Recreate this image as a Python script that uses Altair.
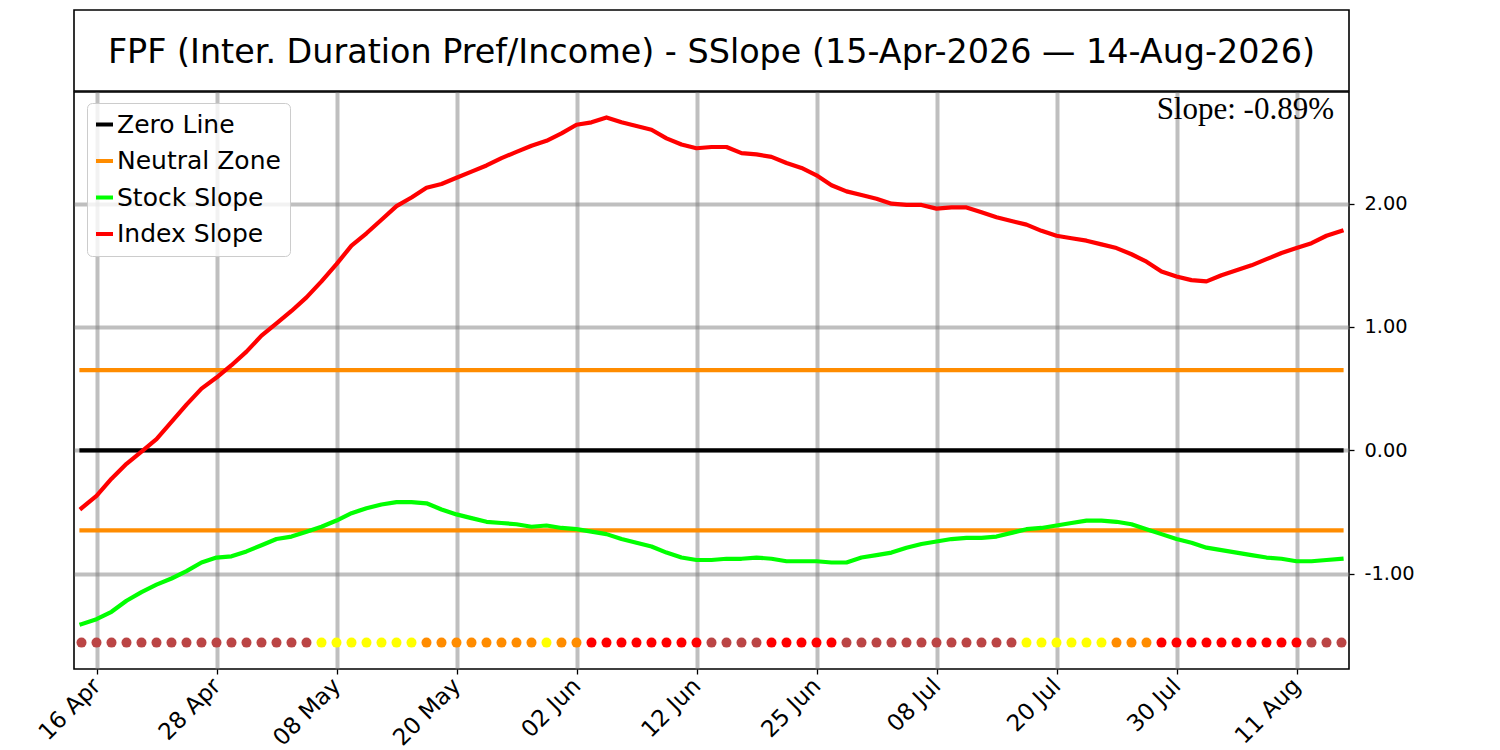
import json
import altair as alt
import pandas as pd

TITLE = "FPF (Inter. Duration Pref/Income) - SSlope (15-Apr-2026 \u2014 14-Aug-2026)"
SLOPE_NOTE = "Slope: -0.89%"

# trading-day index 0 = 15 Apr 2026 ... 84 = 14 Aug 2026
index_slope = [
    -0.47, -0.37, -0.23, -0.11, -0.01, 0.09, 0.23, 0.37, 0.50, 0.59,
    0.69, 0.80, 0.93, 1.03, 1.13, 1.24, 1.37, 1.51, 1.66, 1.76,
    1.87, 1.98, 2.05, 2.13, 2.16, 2.21, 2.26, 2.31, 2.37, 2.42,
    2.47, 2.51, 2.57, 2.64, 2.66, 2.70, 2.66, 2.63, 2.60, 2.53,
    2.48, 2.45, 2.46, 2.46, 2.41, 2.40, 2.38, 2.33, 2.29, 2.23,
    2.15, 2.10, 2.07, 2.04, 2.00, 1.99, 1.99, 1.96, 1.97, 1.97,
    1.93, 1.89, 1.86, 1.83, 1.78, 1.74, 1.72, 1.70, 1.67, 1.64,
    1.59, 1.53, 1.45, 1.41, 1.38, 1.37, 1.42, 1.46, 1.50, 1.55,
    1.60, 1.64, 1.68, 1.74, 1.78,
]

stock_slope = [
    -1.41, -1.37, -1.31, -1.22, -1.15, -1.09, -1.04, -0.98, -0.91, -0.87,
    -0.86, -0.82, -0.77, -0.72, -0.70, -0.66, -0.62, -0.57, -0.51, -0.47,
    -0.44, -0.42, -0.42, -0.43, -0.48, -0.52, -0.55, -0.58, -0.59, -0.60,
    -0.62, -0.61, -0.63, -0.64, -0.66, -0.68, -0.72, -0.75, -0.78, -0.83,
    -0.87, -0.89, -0.89, -0.88, -0.88, -0.87, -0.88, -0.90, -0.90, -0.90,
    -0.91, -0.91, -0.87, -0.85, -0.83, -0.79, -0.76, -0.74, -0.72, -0.71,
    -0.71, -0.70, -0.67, -0.64, -0.63, -0.61, -0.59, -0.57, -0.57, -0.58,
    -0.60, -0.64, -0.68, -0.72, -0.75, -0.79, -0.81, -0.83, -0.85, -0.87,
    -0.88, -0.90, -0.90, -0.89, -0.88,
]

signal_state = [
    "weak", "weak", "weak", "weak", "weak", "weak", "weak", "weak", "weak", "weak",
    "weak", "weak", "weak", "weak", "weak", "weak", "watch", "watch", "watch", "watch",
    "watch", "watch", "watch", "neutral", "neutral", "neutral", "neutral", "neutral", "neutral", "neutral",
    "neutral", "watch", "neutral", "neutral", "strong", "strong", "strong", "strong", "strong", "strong",
    "strong", "strong", "weak", "weak", "weak", "weak", "strong", "strong", "strong", "strong",
    "strong", "weak", "weak", "weak", "weak", "weak", "weak", "weak", "weak", "weak",
    "weak", "weak", "weak", "watch", "watch", "watch", "watch", "watch", "watch", "neutral",
    "neutral", "neutral", "strong", "strong", "strong", "strong", "strong", "strong", "strong", "strong",
    "strong", "strong", "weak", "weak", "weak",
]

tick_positions = [1, 9, 17, 25, 33, 41, 49, 57, 65, 73, 81]
tick_labels = ["16 Apr", "28 Apr", "08 May", "20 May", "02 Jun", "12 Jun",
               "25 Jun", "08 Jul", "20 Jul", "30 Jul", "11 Aug"]
y_ticks = [-1, 0, 1, 2]

series_names = ["Zero Line", "Neutral Zone", "Stock Slope", "Index Slope"]
zero_level = 0.0
neutral_band = 0.65
signal_level = -1.56

# ---- styling (kept out of the data) ----
series_colors = ["#000000", "#ff8c00", "#00ff00", "#ff0000"]
state_domain = ["weak", "watch", "neutral", "strong"]
state_colors = ["#bb4545", "#ffff00", "#ff8c00", "#ff0000"]

n = len(index_slope)
first, last = 0, n - 1

stock_df = pd.DataFrame({"idx": range(n), "v": stock_slope, "series": "Stock Slope"})
index_df = pd.DataFrame({"idx": range(n), "v": index_slope, "series": "Index Slope"})
zero_df = pd.DataFrame({"idx": [first, last], "v": [zero_level, zero_level], "series": "Zero Line", "part": "z"})
neutral_df = pd.DataFrame({
    "idx": [first, last, first, last],
    "v": [neutral_band, neutral_band, -neutral_band, -neutral_band],
    "series": "Neutral Zone",
    "part": ["up", "up", "dn", "dn"],
})
dots_df = pd.DataFrame({"idx": range(n), "state": signal_state, "v": signal_level})

step = tick_positions[1] - tick_positions[0]
label_expr = "{}[round((datum.value - {}) / {})]".format(json.dumps(tick_labels), tick_positions[0], step)
y_label_expr = "replace(format(datum.value, '.2f'), '\u2212', '-')"

W, H = 1275, 577
TITLE_H = 81
STROKE_W = 1.6

x_enc = alt.X(
    "idx:Q",
    scale=alt.Scale(domain=[-0.5, 84.5], nice=False, zero=False),
    axis=alt.Axis(values=tick_positions, labelExpr=label_expr, title=None,
                  labelAngle=315, labelAlign="right", labelBaseline="middle",
                  labelPadding=8, labelOffset=0, labelFontSize=23),
)
y_enc = alt.Y(
    "v:Q",
    scale=alt.Scale(domain=[-1.774, 2.906], nice=False, zero=False),
    axis=alt.Axis(values=y_ticks, labelExpr=y_label_expr, orient="right", title=None, labelPadding=10),
)
color_enc = alt.Color(
    "series:N",
    scale=alt.Scale(domain=series_names, range=series_colors),
    legend=alt.Legend(
        title=None, orient="none", legendX=13, legendY=TITLE_H + 12,
        symbolType="stroke", symbolSize=289, symbolStrokeWidth=4, symbolOffset=-4,
        labelFontSize=25, labelFont="DejaVu Sans", labelColor="black",
        labelOffset=0, rowPadding=10.5, padding=9, labelLimit=400,
        fillColor="rgba(255,255,255,0.8)", strokeColor="#cccccc", cornerRadius=5,
    ),
)

zero = alt.Chart(zero_df).mark_line(strokeWidth=4.2, strokeCap="square").encode(x=x_enc, y=y_enc, color=color_enc, detail="part:N")
neutral = alt.Chart(neutral_df).mark_line(strokeWidth=4.2, strokeCap="square").encode(x=x_enc, y=y_enc, color=color_enc, detail="part:N")
stock = alt.Chart(stock_df).mark_line(strokeWidth=4.2, strokeCap="square", strokeJoin="round").encode(x=x_enc, y=y_enc, color=color_enc)
index = alt.Chart(index_df).mark_line(strokeWidth=4.2, strokeCap="square", strokeJoin="round").encode(x=x_enc, y=y_enc, color=color_enc)
dots = alt.Chart(dots_df).mark_circle(size=100, opacity=1).encode(
    x=x_enc, y=y_enc,
    fill=alt.Fill("state:N", scale=alt.Scale(domain=state_domain, range=state_colors), legend=None),
)
note = alt.Chart(alt.Data(values=[{"t": SLOPE_NOTE}])).mark_text(
    font="Liberation Serif", fontSize=31, align="right", baseline="alphabetic", color="black"
).encode(text="t:N", x=alt.value(1260), y=alt.value(27))

main = alt.layer(zero, neutral, stock, index, dots, note).properties(width=W, height=H)

title_panel = alt.Chart(alt.Data(values=[{"t": TITLE}])).mark_text(
    font="DejaVu Sans", fontSize=33.4, align="center", baseline="alphabetic", color="black"
).encode(text="t:N", x=alt.value(W / 2), y=alt.value(53)).properties(width=W, height=TITLE_H)

chart = alt.vconcat(title_panel, main).properties(
    padding={"left": 25, "top": 1, "right": 5, "bottom": 0}
).configure_concat(spacing=-STROKE_W).configure_view(
    stroke="black", strokeWidth=STROKE_W
).configure_axis(
    labelFont="DejaVu Sans", labelFontSize=19.4, labelColor="black",
    tickColor="black", tickSize=5, tickWidth=1.3,
    gridColor="#808080", gridOpacity=0.5, gridWidth=4, domain=False,
)

chart.save("out.html", embed_options={"renderer": "svg", "actions": False})
